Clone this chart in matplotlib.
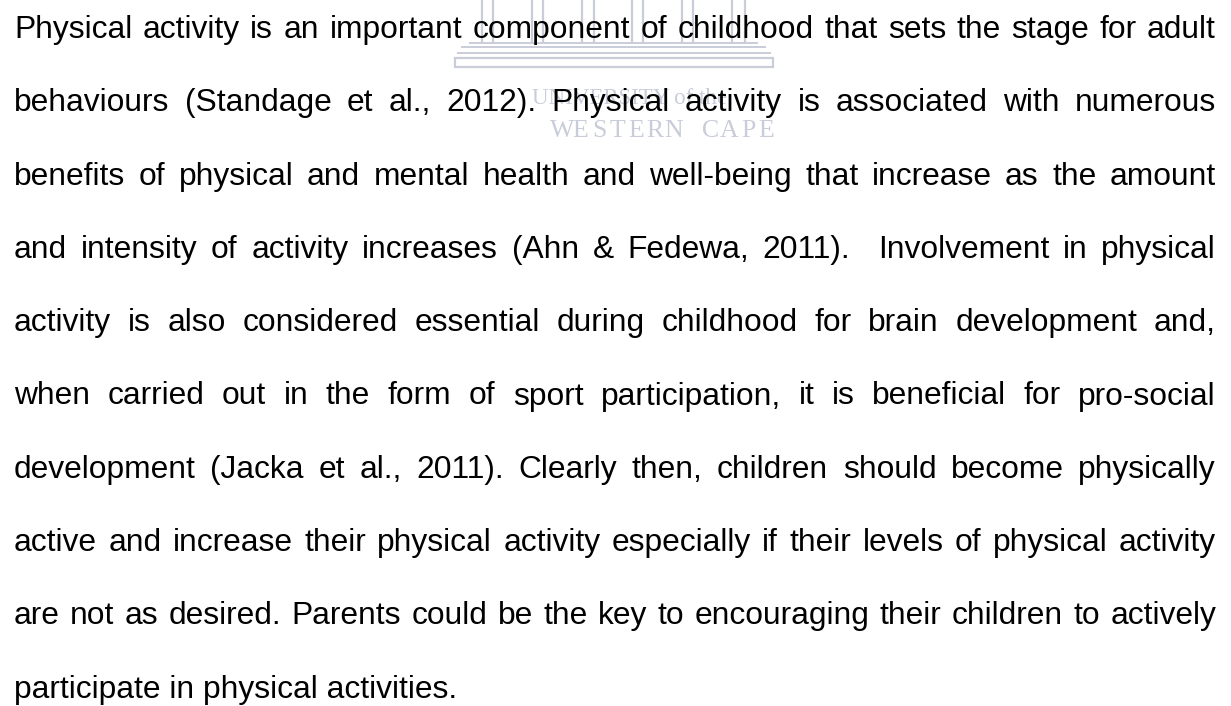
import matplotlib
matplotlib.use("Agg")
import matplotlib.pyplot as plt
from matplotlib.patches import Rectangle

# paragraph, one entry per printed line (last line is not justified)
lines = [
    "Physical activity is an important component of childhood that sets the stage for adult",
    "behaviours (Standage et al., 2012). Physical activity is associated with numerous",
    "benefits of physical and mental health and well-being that increase as the amount",
    "and intensity of activity increases (Ahn & Fedewa, 2011).  Involvement in physical",
    "activity is also considered essential during childhood for brain development and,",
    "when carried out in the form of sport participation, it is beneficial for pro-social",
    "development (Jacka et al., 2011). Clearly then, children should become physically",
    "active and increase their physical activity especially if their levels of physical activity",
    "are not as desired. Parents could be the key to encouraging their children to actively",
    "participate in physical activities.",
]

# faint university watermark behind the first lines
wm_columns = [482, 493, 532, 543, 582, 594, 632, 643, 682, 693, 732, 745]
wm_line1 = "UNIVERSITY of the"
wm_line2 = "WESTERN CAPE"

W, H = 1231, 706
left, right = 14, 1216
first_base, line_gap = 38, 73.3
fsize = 22.9
wm_col = "#c9cdd9"

fig = plt.figure(figsize=(W / 100, H / 100), dpi=100)
ax = fig.add_axes([0, 0, 1, 1])
ax.set_xlim(0, W)
ax.set_ylim(H, 0)
ax.axis("off")

# watermark: columns, steps and base
for x in wm_columns:
    ax.plot([x, x], [0, 41], color=wm_col, lw=1.6, zorder=1)
ax.plot([470, 757], [43, 43], color=wm_col, lw=1.4, zorder=1)
ax.plot([462, 765], [47, 47], color=wm_col, lw=1.4, zorder=1)
ax.plot([458, 770], [53, 53], color=wm_col, lw=1.4, zorder=1)
ax.add_patch(Rectangle((455, 58), 318, 9, fill=False, ec=wm_col, lw=1.6, zorder=1))
ax.text(630, 98, wm_line1, family="Liberation Serif", fontsize=16.5, color=wm_col,
        ha="center", va="center", zorder=1)
for i, ch in enumerate(wm_line2):
    ax.text(562 + i * 18.6, 131, ch, family="Liberation Serif", fontsize=18.5,
            color=wm_col, ha="center", va="center", zorder=1)

# justified paragraph
renderer = fig.canvas.get_renderer()
for n, line in enumerate(lines):
    y = first_base + n * line_gap
    words = line.split(" ")
    if n == len(lines) - 1:
        ax.text(left, y, line, family="Liberation Sans", fontsize=fsize,
                color="#000000", ha="left", va="baseline", zorder=3)
        continue
    arts, widths = [], []
    for w in words:
        t = ax.text(0, y, w, family="Liberation Sans", fontsize=fsize,
                    color="#000000", ha="left", va="baseline", zorder=3)
        widths.append(t.get_window_extent(renderer).width if w else 0.0)
        arts.append(t)
    gap = (right - left - sum(widths)) / (len(words) - 1)
    x = left
    for t, wd in zip(arts, widths):
        t.set_x(x)
        x += wd + gap

fig.savefig("out.png", dpi=100)
